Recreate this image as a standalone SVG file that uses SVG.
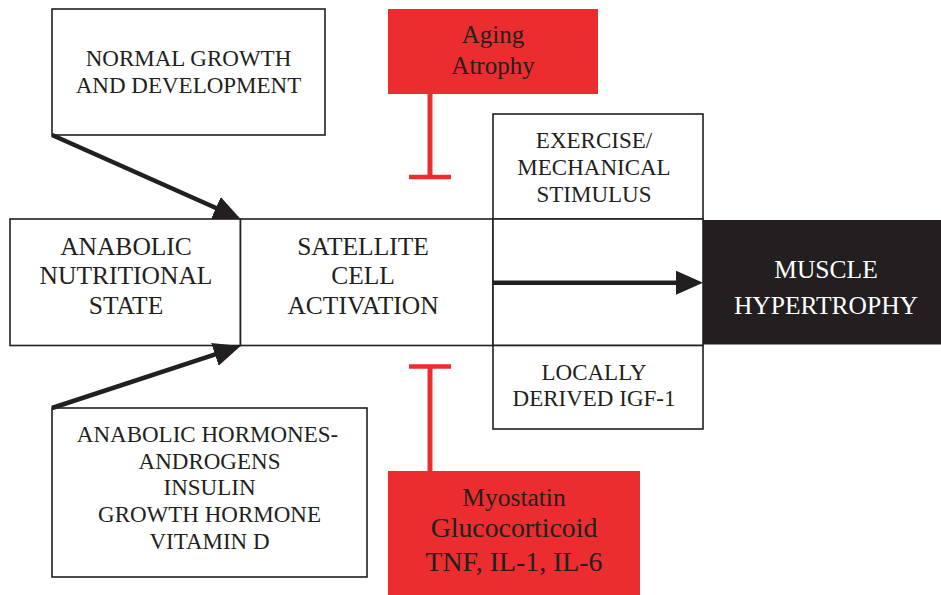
<svg xmlns="http://www.w3.org/2000/svg" width="941" height="595" viewBox="0 0 941 595">
<defs>
<style>
.box{fill:#fff;stroke:#231f20;stroke-width:1.6}
.red{fill:#eb2d2f}
.dark{fill:#231f20}
.t{font-family:"Liberation Serif","Times New Roman",serif;fill:#231f20;text-anchor:middle}
.s{font-size:23px}
.l{font-size:25.5px}
.w{fill:#fff}
.arrow{stroke:#231f20;stroke-width:4.5;fill:none;marker-end:url(#ah)}
.inh{stroke:#eb2d2f;stroke-width:5;fill:none}
.bar{stroke:#eb2d2f;stroke-width:4.6;fill:none}
</style>
<marker id="ah" markerUnits="userSpaceOnUse" markerWidth="27" markerHeight="24" viewBox="0 0 27 24" refX="2" refY="12" orient="auto">
<path d="M0,0 L27,12 L0,24 z" fill="#231f20"/>
</marker>
</defs>
<rect width="941" height="595" fill="#fff"/>

<g id="normal-growth">
<rect class="box" x="52" y="9" width="273" height="126"/>
<text class="t s" x="188.5" y="66">NORMAL GROWTH</text>
<text class="t s" x="188.5" y="93">AND DEVELOPMENT</text>
</g>

<g id="aging">
<rect class="red" x="388" y="9" width="210" height="85"/>
<text class="t" style="font-size:25px" x="493" y="43">Aging</text>
<text class="t" style="font-size:25px" x="493" y="74">Atrophy</text>
</g>

<g id="exercise">
<rect class="box" x="493" y="114" width="210" height="105"/>
<text class="t s" x="594" y="148">EXERCISE/</text>
<text class="t s" x="594" y="175">MECHANICAL</text>
<text class="t s" x="594" y="201.5">STIMULUS</text>
</g>

<g id="anabolic-nutritional">
<rect class="box" x="10" y="219" width="230.5" height="126.5"/>
<text class="t l" x="126" y="255">ANABOLIC</text>
<text class="t l" x="126" y="284">NUTRITIONAL</text>
<text class="t l" x="126" y="314">STATE</text>
</g>

<g id="satellite">
<rect class="box" x="240.5" y="219" width="252.5" height="126.5"/>
<text class="t l" x="363" y="255">SATELLITE</text>
<text class="t l" x="363" y="284">CELL</text>
<text class="t l" x="363" y="314">ACTIVATION</text>
</g>

<g id="channel">
<rect class="box" x="493" y="219" width="210" height="126.5"/>
</g>

<g id="locally">
<rect class="box" x="493" y="345.5" width="210" height="83.5"/>
<text class="t s" x="594" y="379.5">LOCALLY</text>
<text class="t s" x="594" y="406">DERIVED IGF-1</text>
</g>

<g id="muscle">
<rect class="dark" x="703" y="220" width="238" height="124.5"/>
<text class="t l w" x="826" y="278">MUSCLE</text>
<text class="t l w" x="826" y="314">HYPERTROPHY</text>
</g>

<g id="hormones">
<rect class="box" x="52" y="408" width="315" height="169"/>
<text class="t s" x="207.5" y="441.5">ANABOLIC HORMONES-</text>
<text class="t s" x="209.5" y="468.5">ANDROGENS</text>
<text class="t s" x="209.5" y="495">INSULIN</text>
<text class="t s" x="209.5" y="522">GROWTH HORMONE</text>
<text class="t s" x="209.5" y="549">VITAMIN D</text>
</g>

<g id="myostatin">
<rect class="red" x="388" y="471" width="252" height="124"/>
<text class="t l" x="514" y="506">Myostatin</text>
<text class="t" style="font-size:27.8px" x="514" y="537">Glucocorticoid</text>
<text class="t" style="font-size:27.8px" x="514" y="570.5">TNF, IL-1, IL-6</text>
</g>

<g id="connectors">
<path class="arrow" d="M52,135 L217.7,208.8"/>
<path class="arrow" d="M52,408 L216.8,353.8"/>
<path class="arrow" d="M493,282.7 L678,282.7"/>
<path class="inh" d="M430,94 L430,177"/>
<path class="bar" d="M409,177 L451,177"/>
<path class="inh" d="M430,471 L430,366.5"/>
<path class="bar" d="M409,366.5 L451,366.5"/>
</g>
</svg>
